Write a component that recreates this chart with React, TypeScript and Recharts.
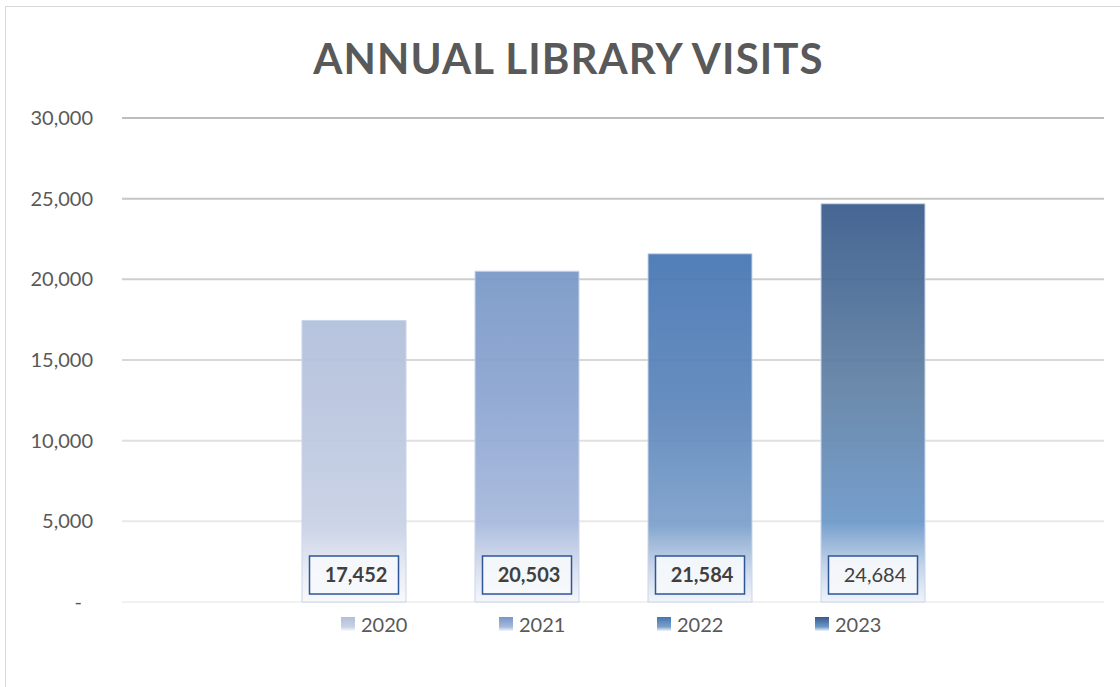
import React from 'react';
import { BarChart, Bar, XAxis, YAxis, CartesianGrid, LabelList, Legend } from 'recharts';

// ---- data ----
const categories = ['Visits'];
const seriesNames = ['2020', '2021', '2022', '2023'];
const seriesValues = [17452, 20503, 21584, 24684];
const yTicks = [0, 5000, 10000, 15000, 20000, 25000, 30000];
const chartTitle = 'ANNUAL LIBRARY VISITS';

// ---- styles ----
const FONT = 'Lato, "Open Sans", sans-serif';
const PLOT_TOP = 118;
const PLOT_BOTTOM_MARGIN = 85;
const CHART_H = 687;
const gradStops: [number, string][][] = [
  [[0, '#b1bfdb'], [0.45, '#bdc8e0'], [0.74, '#c9d2e5'], [0.9, '#e8ecf5'], [1, '#f8f9fc']],
  [[0, '#7797c6'], [0.4, '#8ca5d1'], [0.76, '#a6b8dc'], [0.9, '#d6deee'], [1, '#f4f6fb']],
  [[0, '#4575b3'], [0.45, '#5d86bb'], [0.78, '#7ca0cb'], [0.9, '#c3d2e8'], [1, '#f1f4fa']],
  [[0, '#385a8b'], [0.45, '#6080a3'], [0.8, '#6c98c9'], [0.91, '#c0d1e8'], [1, '#eff3f9']],
];
const labelBold = [true, true, true, false];

const data = categories.map((c) => {
  const row: Record<string, string | number> = { name: c };
  seriesNames.forEach((s, i) => {
    row[s] = seriesValues[i];
  });
  return row;
});

// gridlines fade from darker (top) to lighter (bottom)
const gridStroke = (y: number) => {
  const plotH = CHART_H - PLOT_BOTTOM_MARGIN - PLOT_TOP;
  const f = Math.max(0, Math.min(1, (y - PLOT_TOP) / plotH));
  const g = Math.round(0xbd + (0xf1 - 0xbd) * f);
  const h = g.toString(16);
  return `#${h}${h}${h}`;
};

const renderHLine = (props: any) => {
  const { x1, y1, x2, y2, key } = props;
  return <line key={key} x1={x1} y1={y1} x2={x2} y2={y2} stroke={gridStroke(y1)} strokeWidth={2} fill="none" />;
};

const YTick = (props: any) => {
  const { x, y, payload } = props;
  const v = payload.value as number;
  const txt = v === 0 ? '-' : v.toLocaleString('en-US');
  return (
    <text
      x={v === 0 ? x - 11 : x}
      y={y}
      dy={7}
      textAnchor="end"
      fill="#595959"
      fontFamily={FONT}
      fontSize={20}
    >
      {txt}
    </text>
  );
};

const makeLabel = (i: number) => (props: any) => {
  const { x, y, width, height, value } = props;
  const cx = x + width / 2;
  const bottom = y + height;
  const bw = 89;
  const bh = 38;
  const by = bottom - 8 - bh;
  return (
    <g>
      <rect
        x={cx - bw / 2}
        y={by}
        width={bw}
        height={bh}
        fill="#f6f8fb"
        fillOpacity={0.92}
        stroke="#2f5597"
        strokeWidth={1.5}
      />
      <text
        x={cx + 2}
        y={by + bh / 2}
        dy={7}
        textAnchor="middle"
        fill="#404040"
        fontFamily={FONT}
        fontWeight={labelBold[i] ? 700 : 400}
        fontSize={20}
      >
        {Number(value).toLocaleString('en-US')}
      </text>
    </g>
  );
};

const renderLegend = () => (
  <div style={{ display: 'flex', paddingLeft: 341, height: 30, alignItems: 'center' }}>
    {seriesNames.map((s, i) => {
      const st = gradStops[i];
      return (
        <div key={s} style={{ width: 158, display: 'flex', alignItems: 'center' }}>
          <div
            style={{
              width: 14,
              height: 14,
              background: `linear-gradient(to bottom, ${st[0][1]}, ${st[2][1]} 70%, ${st[4][1]})`,
              marginRight: 6,
            }}
          />
          <span style={{ fontFamily: FONT, fontSize: 20, color: '#595959' }}>{s}</span>
        </div>
      );
    })}
  </div>
);

export default function App() {
  return (
    <div
      style={{
        position: 'absolute',
        left: 0,
        top: 0,
        width: 1120,
        height: 687,
        overflow: 'hidden',
        background: '#ffffff',
      }}
    >
      <div
        style={{
          position: 'absolute',
          left: 5,
          top: 6,
          width: 1300,
          height: 900,
          borderLeft: '1.5px solid #d9d9d9',
          borderTop: '1.5px solid #d9d9d9',
        }}
      />
      <div
        style={{
          position: 'absolute',
          left: 0,
          top: 28,
          width: 1137,
          textAlign: 'center',
          fontFamily: FONT,
          fontWeight: 700,
          fontSize: 42,
          letterSpacing: 1.1,
          color: '#595959',
          lineHeight: '60px',
        }}
      >
        {chartTitle}
      </div>
      <div style={{ position: 'absolute', left: 0, top: 0 }}>
        <BarChart
          width={1120}
          height={CHART_H}
          data={data}
          margin={{ top: PLOT_TOP, right: 16, left: 0, bottom: PLOT_BOTTOM_MARGIN - 30 }}
          barSize={104}
          barGap={69}
        >
          <defs>
            {gradStops.map((stops, i) => (
              <linearGradient key={i} id={`grad${i}`} x1="0" y1="0" x2="0" y2="1">
                {stops.map(([o, c], j) => (
                  <stop key={j} offset={o} stopColor={c} />
                ))}
              </linearGradient>
            ))}
          </defs>
          <CartesianGrid vertical={false} horizontal={renderHLine} />
          <XAxis dataKey="name" hide />
          <YAxis
            domain={[0, 30000]}
            ticks={yTicks}
            axisLine={false}
            tickLine={false}
            tickSize={0}
            tickMargin={29}
            width={122}
            tick={<YTick />}
            interval={0}
          />
          <Legend content={renderLegend} verticalAlign="bottom" wrapperStyle={{ top: 609, left: 0, width: 1120 }} />
          {seriesNames.map((s, i) => (
            <Bar
              key={s}
              dataKey={s}
              fill={`url(#grad${i})`}
              fillOpacity={0.93}
              stroke="#c9d5ea"
              strokeWidth={1}
              isAnimationActive={false}
            >
              <LabelList dataKey={s} content={makeLabel(i)} />
            </Bar>
          ))}
        </BarChart>
      </div>
    </div>
  );
}
